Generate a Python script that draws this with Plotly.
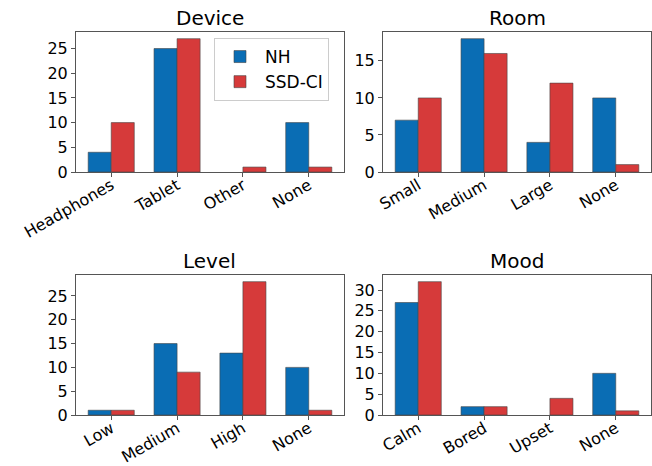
import plotly.graph_objects as go

categories = {
    "Device": ["Headphones", "Tablet", "Other", "None"],
    "Room": ["Small", "Medium", "Large", "None"],
    "Level": ["Low", "Medium", "High", "None"],
    "Mood": ["Calm", "Bored", "Upset", "None"],
}
nh_device = [4, 25, 0, 10]
ssd_device = [10, 27, 1, 1]
nh_room = [7, 18, 4, 10]
ssd_room = [10, 16, 12, 1]
nh_level = [1, 15, 13, 10]
ssd_level = [1, 9, 28, 1]
nh_mood = [27, 2, 0, 10]
ssd_mood = [32, 2, 4, 1]

panels = [
    ("Device", nh_device, ssd_device),
    ("Room", nh_room, ssd_room),
    ("Level", nh_level, ssd_level),
    ("Mood", nh_mood, ssd_mood),
]

BLUE = "#0a6db4"
RED = "#d63a3a"
W, H = 652, 466
FONT = "DejaVu Sans"
TICK = 16

xdoms = [(76 / W, 344 / W), (383 / W, 651 / W)]
ydoms = [(1 - 172 / H, 1 - 32 / H), (1 - 415 / H, 1 - 275 / H)]


def edge(vals):
    return dict(color="#444", width=[0.6 if v > 0 else 0 for v in vals])


fig = go.Figure()
annotations = []
for k, (title, nh, ssd) in enumerate(panels):
    r, c = divmod(k, 2)
    idx = "" if k == 0 else str(k + 1)
    xa, ya = "x" + idx, "y" + idx
    cats = categories[title]
    pos = list(range(len(cats)))
    fig.add_trace(go.Bar(x=pos, y=nh, name="NH", marker=dict(color=BLUE, line=edge(nh)),
                         width=0.35, offset=-0.35, xaxis=xa, yaxis=ya, showlegend=(k == 0)))
    fig.add_trace(go.Bar(x=pos, y=ssd, name="SSD-CI", marker=dict(color=RED, line=edge(ssd)),
                         width=0.35, offset=0, xaxis=xa, yaxis=ya, showlegend=(k == 0)))
    ymax = max(max(nh), max(ssd)) * 1.05
    axis_common = dict(showline=True, linecolor="#555", linewidth=1, mirror=True, showgrid=False,
                       zeroline=False, ticks="outside", ticklen=4, tickcolor="#555", automargin=False,
                       tickfont=dict(family=FONT, size=TICK, color="black"))
    fig.update_layout(**{
        "xaxis" + idx: dict(domain=xdoms[c], anchor=ya, range=[-0.535, 3.535], tickmode="array",
                            tickvals=pos, ticktext=cats, tickangle=-30, ticklabelstandoff=-7,
                            **axis_common),
        "yaxis" + idx: dict(domain=ydoms[r], anchor=xa, range=[0, ymax], dtick=5, **axis_common),
    })
    annotations.append(dict(text=title, x=(xdoms[c][0] + xdoms[c][1]) / 2, y=ydoms[r][1], xref="paper",
                            yref="paper", yanchor="bottom", xanchor="center", showarrow=False, yshift=0,
                            font=dict(family=FONT, size=20, color="black")))

fig.update_layout(
    width=W, height=H, margin=dict(l=0, r=0, t=0, b=0),
    paper_bgcolor="white", plot_bgcolor="white",
    barmode="overlay",
    annotations=annotations,
    font=dict(family=FONT, color="black"),
    legend=dict(x=214 / W, y=1 - 38 / H, xanchor="left", yanchor="top", bgcolor="rgba(255,255,255,0.8)",
                bordercolor="#ccc", borderwidth=1, font=dict(family=FONT, size=17), itemwidth=40,
                tracegroupgap=4),
)
fig.write_html("out.html")
